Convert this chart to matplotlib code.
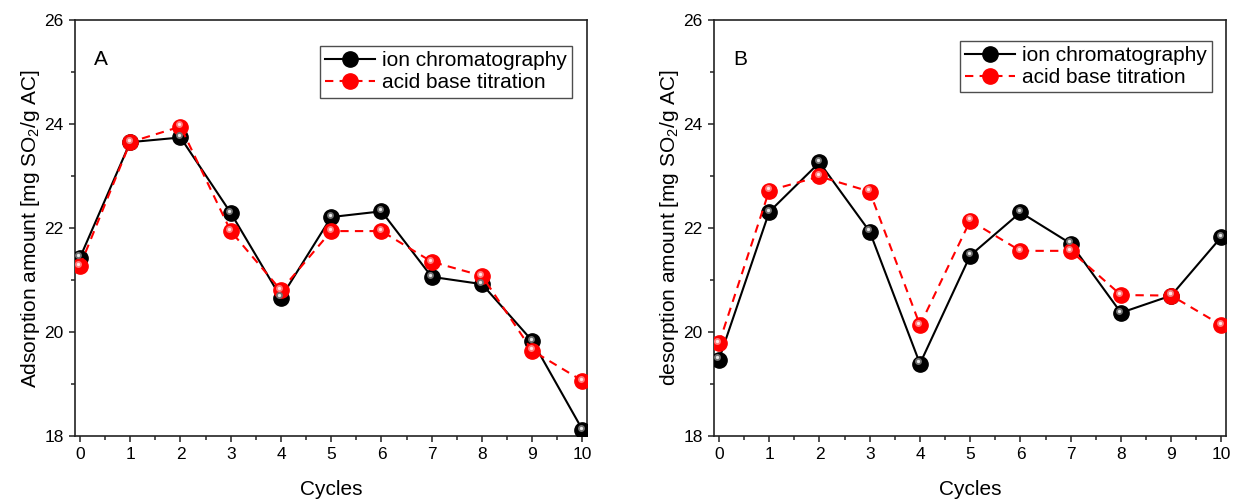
import matplotlib
matplotlib.use("Agg")
import matplotlib.pyplot as plt
from matplotlib.transforms import ScaledTranslation

plt.rcParams['font.family'] = ['Liberation Sans', 'DejaVu Sans']
plt.rcParams['mathtext.default'] = 'regular'

cycles = [0, 1, 2, 3, 4, 5, 6, 7, 8, 9, 10]

# panel A - adsorption
ads_ion = [21.43, 23.65, 23.74, 22.29, 20.66, 22.21, 22.32, 21.06, 20.92, 19.83, 18.12]
ads_titr = [21.27, 23.65, 23.95, 21.94, 20.80, 21.94, 21.94, 21.35, 21.08, 19.64, 19.06]

# panel B - desorption
des_ion = [19.47, 22.31, 23.26, 21.93, 19.39, 21.47, 22.30, 21.70, 20.37, 20.70, 21.83]
des_titr = [19.78, 22.72, 22.99, 22.70, 20.13, 22.14, 21.56, 21.56, 20.71, 20.70, 20.13]

panels = [
    ("A", "Adsorption amount [mg SO$_2$/g AC]", ads_ion, ads_titr, 0.0607, (0.969, 0.9375)),
    ("B", "desorption amount [mg SO$_2$/g AC]", des_ion, des_titr, 0.5781, (0.971, 0.95)),
]

fig = plt.figure(figsize=(12.35, 4.99), dpi=100)

for letter, ylab, ion, titr, left, legpos in panels:
    ax = fig.add_axes([left, 0.1263, 0.4150, 0.8337])
    shift = ax.transData + ScaledTranslation(-1.2 / 72, 1.6 / 72, fig.dpi_scale_trans)

    l1, = ax.plot(cycles, ion, color='black', lw=1.5, marker='o', ms=11,
                  mfc='black', mec='black', zorder=3, label='ion chromatography')
    ax.plot(cycles, ion, ls='none', marker='o', ms=5, mfc='#707070', mec='none',
            transform=shift, zorder=4)
    ax.plot(cycles, ion, ls='none', marker='o', ms=2.4, mfc='#e8e8e8', mec='none',
            transform=shift, zorder=5)

    l2, = ax.plot(cycles, titr, color='#ff0000', lw=1.5, ls=(0, (4, 3)), marker='o', ms=11,
                  mfc='#ff0000', mec='#ff0000', zorder=3, label='acid base titration')
    ax.plot(cycles, titr, ls='none', marker='o', ms=5, mfc='#ff7a7a', mec='none',
            transform=shift, zorder=4)
    ax.plot(cycles, titr, ls='none', marker='o', ms=2.4, mfc='#ffe6e6', mec='none',
            transform=shift, zorder=5)

    ax.set_xlim(-0.1, 10.1)
    ax.set_ylim(18, 26)
    ax.set_xticks(cycles)
    ax.set_xticks([c + 0.5 for c in cycles[:-1]], minor=True)
    ax.set_yticks([18, 20, 22, 24, 26])
    ax.set_yticks([19, 21, 23, 25], minor=True)
    ax.tick_params(which='both', direction='out', labelsize=12.5, color='#222222', width=1.1)
    ax.tick_params(which='major', length=4.5)
    ax.tick_params(which='minor', length=3)
    for sp in ax.spines.values():
        sp.set_linewidth(1.2)
        sp.set_color('#222222')

    ax.set_xlabel("Cycles", fontsize=15, labelpad=13)
    ax.set_ylabel(ylab, fontsize=15, labelpad=2)
    ax.text(0.051, 0.904, letter, transform=ax.transAxes, fontsize=15,
            ha='center', va='center')

    leg = ax.legend(handles=[l1, l2], loc='upper right', bbox_to_anchor=legpos,
                    fontsize=15, frameon=True, fancybox=False, edgecolor='#222222',
                    handlelength=2.4, handletextpad=0.3, borderpad=0.25,
                    labelspacing=0.15, borderaxespad=0)
    leg.get_frame().set_linewidth(1.0)

fig.savefig("out.png", dpi=100)
